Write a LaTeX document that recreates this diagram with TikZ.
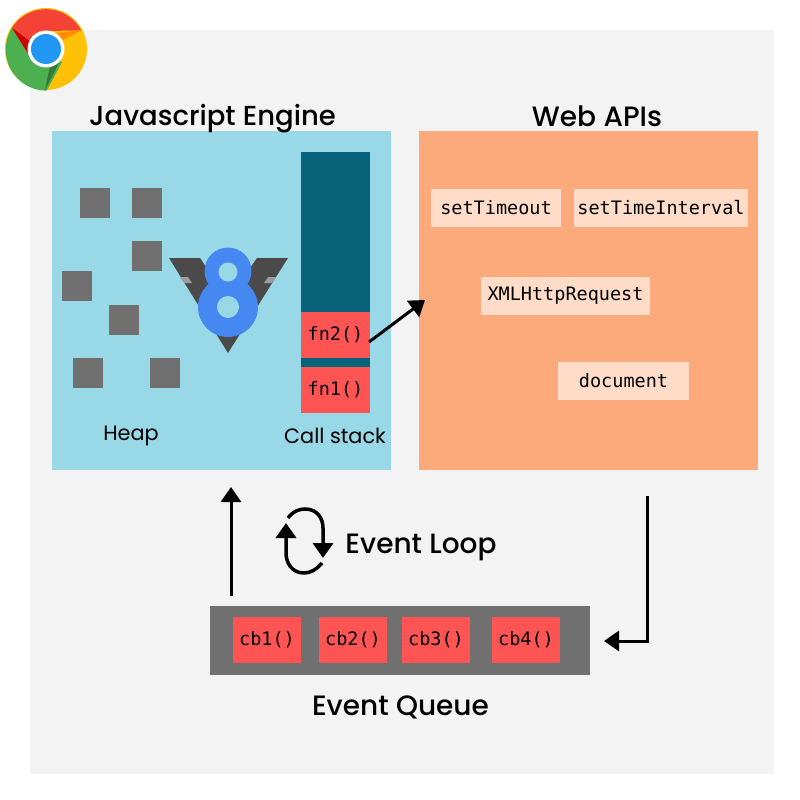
\documentclass[tikz,border=0pt]{standalone}
\usepackage{fontspec}
\setmainfont{Poppins}
\newfontfamily\headfont{Poppins Medium}
\setmonofont{DejaVu Sans Mono}
\usepackage{xcolor}
\usetikzlibrary{arrows.meta}
\definecolor{pagegrey}{HTML}{F3F3F3}
\definecolor{engineblue}{HTML}{98D8E7}
\definecolor{webpeach}{HTML}{FCA97C}
\definecolor{stackteal}{HTML}{08637A}
\definecolor{fnred}{HTML}{FF5454}
\definecolor{chipcream}{HTML}{FEDCC8}
\definecolor{slategrey}{HTML}{707070}
\definecolor{veeblue}{HTML}{4688F1}
\definecolor{veedark}{HTML}{4A4A4A}
\definecolor{chromered}{HTML}{F44336}
\definecolor{chromegreen}{HTML}{4CAF50}
\definecolor{chromeyellow}{HTML}{FFC107}
\definecolor{chromeblue}{HTML}{2196F3}

\begin{document}
\begin{tikzpicture}[
  x=1pt,y=-1pt,
  panel/.style={minimum width=339pt,minimum height=339pt,inner sep=0pt},
  heapbox/.style={fill=slategrey,minimum size=30pt,inner sep=0pt},
  fnbox/.style={fill=fnred,minimum width=69pt,minimum height=46pt,inner sep=0pt,font=\ttfamily\fontsize{18.5}{20}\selectfont},
  chip/.style={fill=chipcream,minimum height=38pt,inner sep=0pt,font=\ttfamily\fontsize{18.5}{20}\selectfont},
  heading/.style={font=\headfont\fontsize{28}{32}\selectfont},
  caption/.style={font=\fontsize{20.8}{24}\selectfont},
  flow/.style={line width=3pt,-{Triangle[length=15pt,width=20pt]}},
  loopflow/.style={flow,line width=3.5pt}
]
  \useasboundingbox (0,0) rectangle (800,800);
  \fill[white] (0,0) rectangle (800,800);
  \node[fill=pagegrey,minimum size=744pt,inner sep=0pt] (page) at (402,402) {};

  % chrome logo
  \fill[chromeyellow] (46,49) circle[radius=41pt];
  \fill[chromered] (12,28) arc[start angle=148,end angle=28,radius=40pt] -- (46,31) -- (29,56) -- cycle;
  \fill[chromegreen] (12,28) arc[start angle=148,end angle=270,radius=41pt] -- (62,62) -- (46,49) -- (29,56) -- cycle;
  \fill[red!80!black] (12,28) -- (29,55) -- (31,42) -- cycle;
  \fill[chromegreen!70!black] (45,90) -- (59,63) -- (50,66) -- cycle;
  \fill[orange!90!yellow] (82,30) -- (57,33) -- (63,40) -- cycle;
  \node[circle,fill=white,minimum size=37pt,inner sep=0pt] (chromeRing) at (46,49) {};
  \node[circle,fill=chromeblue,minimum size=30pt,inner sep=0pt] (chromeEye) at (46,49) {};

  % engine
  \node[panel,fill=engineblue] (engine) at (221.5,300.5) {};
  \node[heading,font=\headfont\fontsize{27.5}{32}\selectfont] (engineTitle) at (212.5,119) {Javascript Engine};
  \node[heapbox] (h1) at (95,203) {};
  \node[heapbox] (h2) at (147,203) {};
  \node[heapbox] (h3) at (147,256) {};
  \node[heapbox] (h4) at (77,286) {};
  \node[heapbox] (h5) at (124,320) {};
  \node[heapbox] (h6) at (88,373) {};
  \node[heapbox] (h7) at (165,373) {};
  \node[caption] (heap) at (131,436) {Heap};
  \node[caption] (callstack) at (335,436) {Call stack};

  % v8 logo
  \fill[veedark] (169,258) -- (200,258) -- (228,300) -- (257,258) -- (288,258) -- (228,353) -- cycle;
  \fill[slategrey!70] (180,277) -- (188,277) -- (192,283) -- (184,283) -- cycle;
  \fill[slategrey!70] (276,277) -- (268,277) -- (264,283) -- (272,283) -- cycle;
  \node[circle,fill=veeblue,minimum size=47pt,inner sep=0pt] (eightTop) at (228,271) {};
  \node[circle,fill=veeblue,minimum size=60pt,inner sep=0pt] (eightBot) at (228,307) {};
  \node[circle,fill=engineblue,minimum size=19pt,inner sep=0pt] (holeTop) at (228,272) {};
  \node[circle,fill=engineblue,minimum size=22pt,inner sep=0pt] (holeBot) at (228,307) {};

  % call stack
  \node[fill=stackteal,minimum width=69pt,minimum height=215pt,inner sep=0pt] (stack) at (335.5,259.5) {};
  \node[fnbox] (fn2) at (335.5,335) {fn2()};
  \node[fnbox] (fn1) at (335.5,390) {fn1()};

  % web apis
  \node[panel,fill=webpeach] (web) at (588.5,300.5) {};
  \node[heading] (webTitle) at (597,116) {Web APIs};
  \node[chip,minimum width=130pt] (timeout) at (496,208) {setTimeout};
  \node[chip,minimum width=174pt] (interval) at (661,208) {setTimeInterval};
  \node[chip,minimum width=169pt] (xhr) at (565.5,296) {XMLHttpRequest};
  \node[chip,minimum width=131pt] (doc) at (623.5,381) {document};

  % event queue
  \node[fill=slategrey,minimum width=380pt,minimum height=69pt,inner sep=0pt] (queue) at (400,640.5) {};
  \node[fnbox,minimum width=68pt] (cb1) at (267,640) {cb1()};
  \node[fnbox,minimum width=68pt] (cb2) at (353,640) {cb2()};
  \node[fnbox,minimum width=68pt] (cb3) at (436,640) {cb3()};
  \node[fnbox,minimum width=68pt] (cb4) at (526,640) {cb4()};
  \node[heading] (queueTitle) at (400.5,707) {Event Queue};
  \node[heading] (loopTitle) at (421,547) {Event Loop};

  % connectors
  \coordinate (callOut) at (369,342);
  \coordinate (webIn) at (425,300);
  \coordinate (queueUp) at (231,596);
  \coordinate (engineIn) at (231,487);
  \coordinate (webOut) at (647,496);
  \coordinate (queueIn) at (604,641);
  \draw[flow] (callOut) -- (webIn);
  \draw[flow] (queueUp) -- (engineIn);
  \draw[flow] (webOut) |- (queueIn);

  % loop arrows
  \coordinate (loopA) at (288,518);
  \coordinate (loopB) at (323,558);
  \coordinate (loopC) at (322,563);
  \coordinate (loopD) at (286,523);
  \draw[loopflow] (loopA) .. controls (293,511) and (300,509) .. (305,509) .. controls (317,509) and (323,518) .. (323,528) -- (loopB);
  \draw[loopflow] (loopC) .. controls (316,570) and (310,573) .. (304,573) .. controls (292,573) and (286,563) .. (286,553) -- (loopD);
\end{tikzpicture}
\end{document}
